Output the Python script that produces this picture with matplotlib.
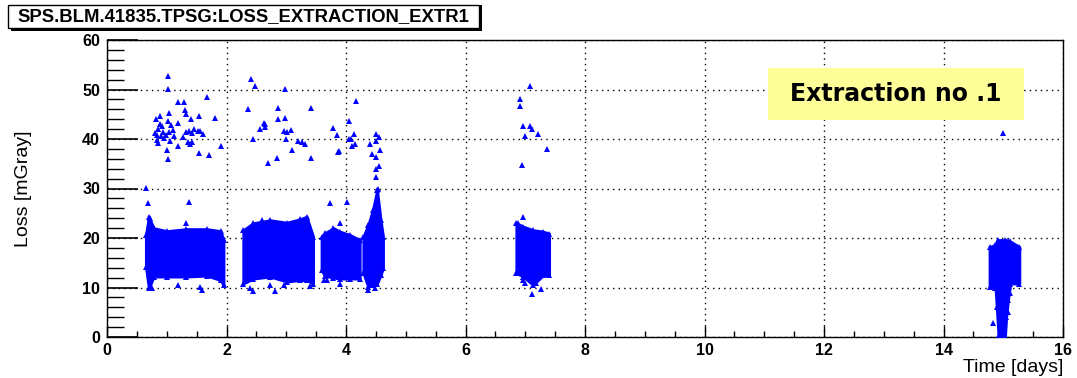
import matplotlib.pyplot as plt
from matplotlib.patches import Rectangle
from matplotlib.ticker import MultipleLocator

# dense bands: x samples (days), lower and upper loss edges (mGray)
band1_x = [0.65, 0.70, 0.78, 1.00, 1.33, 1.67, 1.90, 1.95]
band1_lo = [14.2, 9.8, 12.2, 12.2, 12.2, 12.4, 11.5, 10.5]
band1_hi = [20.6, 24.3, 22.0, 21.4, 21.8, 21.8, 21.4, 19.6]

band2_x = [2.28, 2.45, 2.73, 3.01, 3.23, 3.34, 3.45]
band2_lo = [10.8, 11.8, 12.2, 11.2, 11.5, 11.5, 10.8]
band2_hi = [21.6, 23.0, 23.6, 23.1, 23.8, 24.3, 20.3]

band3_x = [3.59, 3.65, 3.79, 3.90, 4.07, 4.23]
band3_lo = [13.5, 12.3, 12.0, 11.8, 11.8, 11.8]
band3_hi = [20.3, 21.0, 22.0, 21.3, 20.6, 19.6]

band4_x = [4.29, 4.37, 4.45, 4.52, 4.58, 4.62]
band4_lo = [12.9, 10.2, 10.5, 10.8, 12.5, 14.0]
band4_hi = [20.3, 22.6, 25.7, 29.7, 23.6, 20.3]

band5_x = [6.85, 6.97, 7.13, 7.30, 7.40]
band5_lo = [12.9, 12.2, 10.5, 12.5, 12.5]
band5_hi = [23.0, 22.3, 21.6, 21.3, 20.9]

band6_x = [14.77, 14.87, 14.89, 14.92, 15.03, 15.05, 15.08, 15.12, 15.27]
band6_lo = [10.2, 9.8, 6.0, 0.1, 0.1, 4.0, 7.5, 10.8, 10.8]
band6_hi = [18.2, 18.6, 18.8, 19.6, 19.6, 19.3, 19.3, 19.3, 18.2]

bands = [
    (band1_x, band1_lo, band1_hi),
    (band2_x, band2_lo, band2_hi),
    (band3_x, band3_lo, band3_hi),
    (band4_x, band4_lo, band4_hi),
    (band5_x, band5_lo, band5_hi),
    (band6_x, band6_lo, band6_hi),
]

# isolated points
out_x = [1.02, 1.02, 1.18, 1.29, 1.68, 0.82, 0.89, 1.03, 1.02, 1.18, 1.31, 1.32, 1.40, 1.54, 1.80,
         0.86, 0.94, 1.03, 1.10, 0.84, 0.90, 0.98, 0.86, 1.05, 1.33, 1.37, 1.42, 1.53, 1.55, 1.35,
         1.39, 1.43, 1.00, 1.18, 1.54, 1.71, 1.90, 1.02, 0.80, 0.92, 0.96, 1.07, 0.88, 1.12, 0.83,
         1.28, 1.45, 1.60,
         2.41, 2.48, 2.98, 2.36, 2.87, 3.41, 2.62, 2.87, 2.98, 2.56, 2.64, 2.64, 2.96, 3.08, 3.02,
         2.44, 3.00, 3.20, 3.26, 3.32, 3.09, 2.84, 2.70, 3.42, 3.79, 3.85, 3.86, 3.88,
         4.16, 4.05, 4.13, 4.05, 4.10, 4.15, 4.51, 4.55, 4.51, 4.41, 4.57, 4.43, 4.51, 4.56, 4.51,
         4.51, 4.53, 4.08,
         0.66, 0.68, 1.38, 0.72, 1.32, 3.73, 4.01, 2.59, 3.90,
         0.75, 1.18, 1.56, 1.59, 2.44, 2.39, 2.82, 2.72, 2.97, 3.39, 3.64, 3.68, 3.90, 4.37, 4.49,
         7.08, 6.91, 6.91, 6.97, 7.08, 7.11, 7.00, 7.22, 7.36, 6.94, 6.97, 6.88, 6.97, 7.00, 7.18,
         7.27, 7.11,
         15.00, 15.11, 15.08, 14.83, 15.12]
out_y = [52.8, 50.1, 47.4, 47.4, 48.5, 44.0, 44.6, 45.2, 43.7, 43.3, 45.9, 45.1, 44.0, 44.6, 44.3,
         42.1, 41.5, 41.5, 41.8, 40.8, 40.6, 40.8, 39.1, 39.5, 41.5, 41.7, 41.3, 41.7, 41.7, 39.3,
         39.0, 39.3, 37.8, 38.6, 37.2, 36.8, 38.6, 35.9, 41.2, 42.6, 40.2, 42.9, 43.0, 40.6, 39.8,
         40.5, 42.0, 41.0,
         52.1, 50.7, 50.1, 46.0, 46.3, 46.3, 43.3, 44.0, 44.3, 42.0, 42.4, 43.0, 41.6, 41.8, 41.4,
         39.9, 40.0, 39.5, 39.4, 39.0, 37.8, 36.2, 35.2, 36.2, 42.3, 40.8, 37.3, 37.6,
         47.7, 43.6, 41.0, 39.9, 38.6, 38.9, 41.1, 40.4, 39.5, 38.9, 37.8, 36.9, 36.4, 34.5, 33.9,
         32.3, 29.8, 40.1,
         30.2, 27.1, 27.3, 24.0, 23.1, 27.0, 27.3, 23.6, 23.0,
         9.8, 10.6, 10.2, 9.4, 9.2, 9.8, 9.2, 10.6, 10.6, 10.4, 11.5, 11.5, 10.8, 9.5, 9.8,
         50.8, 48.1, 46.7, 42.7, 42.7, 42.1, 40.6, 41.0, 37.9, 34.7, 24.3, 23.0, 11.5, 11.0, 10.9,
         9.6, 8.7,
         41.3, 8.8, 5.1, 2.8, 12.0]

title = "SPS.BLM.41835.TPSG:LOSS_EXTRACTION_EXTR1"
note = "Extraction no .1"

narrow = ['Liberation Sans Narrow', 'Liberation Sans', 'DejaVu Sans']
blue = '#0000ff'

fig = plt.figure(figsize=(10.77, 3.78), dpi=100)
ax = fig.add_axes([107 / 1077, 1 - 337 / 378, (1063 - 107) / 1077, (337 - 40) / 378])

for bx, blo, bhi in bands:
    ax.fill_between(bx, blo, bhi, color=blue, lw=2, edgecolor=blue, zorder=3)
    ax.plot(bx, blo, ls='none', marker='^', ms=5, mew=0, color=blue, zorder=3)
    ax.plot(bx, bhi, ls='none', marker='^', ms=5, mew=0, color=blue, zorder=3)

ax.plot(out_x, out_y, ls='none', marker='^', ms=5, color=blue, mew=0, zorder=3)

ax.set_xlim(0, 16)
ax.set_ylim(0, 60)
ax.xaxis.set_major_locator(MultipleLocator(2))
ax.xaxis.set_minor_locator(MultipleLocator(0.5))
ax.yaxis.set_major_locator(MultipleLocator(10))
ax.yaxis.set_minor_locator(MultipleLocator(2))
ax.tick_params(axis='x', which='major', direction='in', length=8, width=1, pad=4)
ax.tick_params(axis='x', which='minor', direction='in', length=4, width=1)
ax.tick_params(axis='y', which='major', direction='in', length=22, width=1.2, pad=5)
ax.tick_params(axis='y', which='minor', direction='in', length=12, width=1)
ax.grid(True, which='major', color='black', ls=(0, (1, 3)), lw=1)
ax.set_axisbelow(True)
for sp in ax.spines.values():
    sp.set_linewidth(1)
for lab in ax.get_xticklabels() + ax.get_yticklabels():
    lab.set_family(narrow)
    lab.set_fontweight('bold')
    lab.set_fontsize(11.5)

ax.set_ylabel('Loss [mGray]', family=narrow, fontsize=14, labelpad=36)
ax.set_xlabel('Time [days]', family=narrow, fontsize=14, loc='right', labelpad=1)

# yellow annotation box
ax.add_patch(Rectangle((11.06, 43.8), 4.29, 10.5, fc='#ffff99', ec='none', zorder=5))
ax.text(13.2, 49.0, note, ha='center', va='center', fontsize=17, fontweight='bold',
        family=['DejaVu Sans'], zorder=6)

# ROOT-like title box with shadow
fig.patches.append(Rectangle((11 / 1077, 1 - 31 / 378), 471 / 1077, 26 / 378,
                             transform=fig.transFigure, fc='black', ec='none'))
fig.patches.append(Rectangle((8 / 1077, 1 - 28 / 378), 471 / 1077, 23 / 378,
                             transform=fig.transFigure, fc='white', ec='black', lw=1))
fig.text(243 / 1077, 1 - 16.5 / 378, title, ha='center', va='center', fontsize=13.3,
         fontweight='bold', family=['Liberation Sans', 'DejaVu Sans'])

fig.savefig('out.png', dpi=100)
